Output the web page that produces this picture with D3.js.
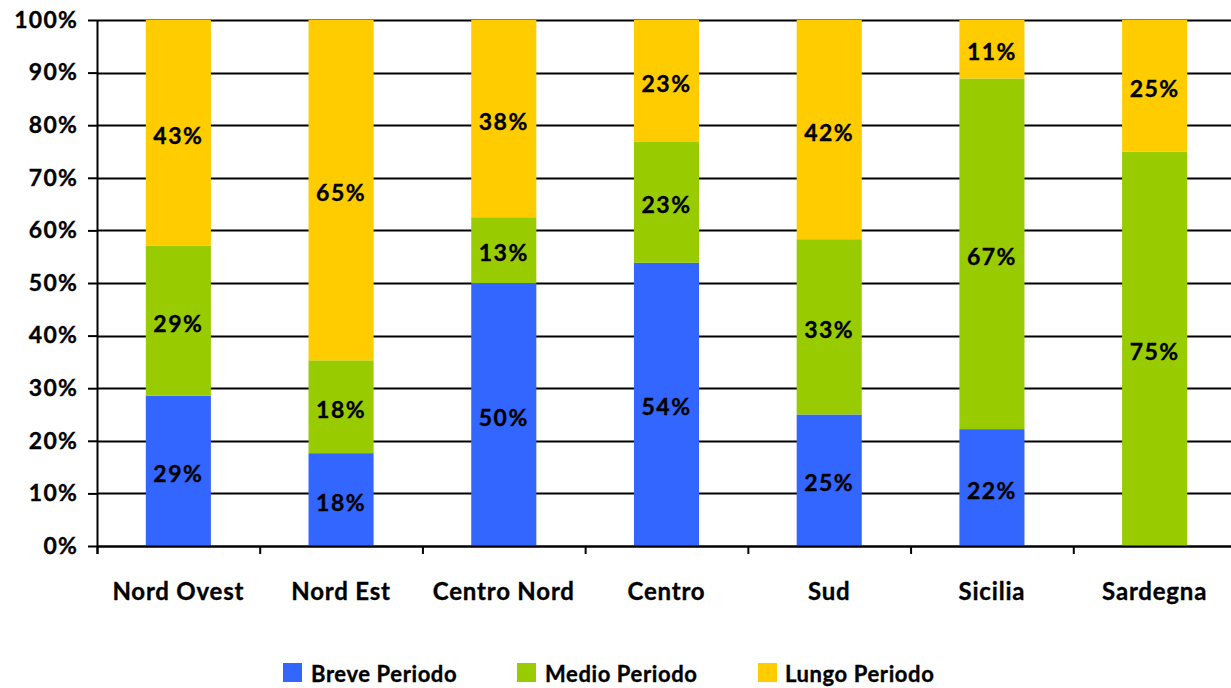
<!DOCTYPE html>
<html>
<head>
<meta charset="utf-8">
<script src="https://cdn.jsdelivr.net/npm/d3@7"></script>
<style>
  html, body { margin: 0; padding: 0; background: #fff; }
  svg { display: block; }
  text { font-family: Lato, "Open Sans", sans-serif; font-weight: bold; fill: #000; stroke: #000; stroke-width: 0.35px; }
</style>
</head>
<body>
<svg id="chart" width="1231" height="688"></svg>
<script>
// Regions on the x axis
const categories = ["Nord Ovest", "Nord Est", "Centro Nord", "Centro", "Sud", "Sicilia", "Sardegna"];

// Share of each period per region (fractions of 1)
const brevePeriodo = [0.2857, 0.1765, 0.500, 0.5385, 0.250, 0.2222, 0.000];
const medioPeriodo = [0.2857, 0.1765, 0.125, 0.2308, 0.3333, 0.6667, 0.750];
const lungoPeriodo = [0.4286, 0.6470, 0.375, 0.2307, 0.4167, 0.1111, 0.250];

const seriesNames = ["Breve Periodo", "Medio Periodo", "Lungo Periodo"];
const seriesColors = ["#3366FF", "#99CC00", "#FFCC00"];

// Y axis tick values
const yTicks = [0, 0.1, 0.2, 0.3, 0.4, 0.5, 0.6, 0.7, 0.8, 0.9, 1.0];

const svg = d3.select("#chart");
const W = 1231;
const plot = { left: 97, right: 1236, top: 20, bottom: 546 };

const x = d3.scaleBand()
  .domain(categories)
  .range([plot.left, plot.right])
  .paddingInner(0.6)
  .paddingOuter(0.3);

const step = x.step();

const y = d3.scaleLinear()
  .domain([0, 1])
  .range([plot.bottom, plot.top]);

const table = categories.map((c, i) => ({
  cat: c,
  "Breve Periodo": brevePeriodo[i],
  "Medio Periodo": medioPeriodo[i],
  "Lungo Periodo": lungoPeriodo[i]
}));

const stacked = d3.stack().keys(seriesNames)(table);

// Horizontal grid lines
svg.append("g")
  .selectAll("line")
  .data(yTicks)
  .join("line")
  .attr("x1", plot.left)
  .attr("x2", W)
  .attr("y1", d => Math.round(y(d)) + 0.5)
  .attr("y2", d => Math.round(y(d)) + 0.5)
  .attr("stroke", "#000")
  .attr("stroke-width", 2);

// Stacked bars
const layers = svg.append("g")
  .selectAll("g")
  .data(stacked)
  .join("g")
  .attr("fill", (d, i) => seriesColors[i]);

layers.selectAll("rect")
  .data(d => d)
  .join("rect")
  .attr("x", d => x(d.data.cat))
  .attr("width", x.bandwidth())
  .attr("y", d => y(d[1]))
  .attr("height", d => y(d[0]) - y(d[1]));

// Value labels inside segments
const fmt = d3.format(".0%");
const labels = svg.append("g");
stacked.forEach(layer => {
  labels.append("g")
    .selectAll("text")
    .data(layer.filter(d => d[1] - d[0] > 0.001))
    .join("text")
    .attr("x", d => x(d.data.cat) + x.bandwidth() / 2)
    .attr("y", d => (y(d[0]) + y(d[1])) / 2)
    .attr("dy", "0.48em")
    .attr("text-anchor", "middle")
    .attr("font-size", 23)
    .attr("letter-spacing", 1.5)
    .text(d => fmt(d[1] - d[0]));
});

// Y axis
const yAxis = d3.axisLeft(y)
  .tickValues(yTicks)
  .tickFormat(d3.format(".0%"))
  .tickSize(9)
  .tickPadding(10);

const gy = svg.append("g")
  .attr("transform", `translate(${plot.left},0)`)
  .call(yAxis);
gy.select(".domain").attr("stroke", "#000").attr("stroke-width", 2).attr("d", `M0.5,${y(1)}V${y(0) + 8}`);
gy.selectAll(".tick line").attr("stroke", "#000").attr("stroke-width", 2);
gy.selectAll(".tick text")
  .attr("font-size", 23)
  .attr("letter-spacing", 1.2)
  .attr("font-family", "Lato, sans-serif")
  .attr("font-weight", "bold");

// X axis line with tick marks at band boundaries
const gx = svg.append("g");
gx.append("line")
  .attr("x1", plot.left)
  .attr("x2", W)
  .attr("y1", Math.round(y(0)) + 0.5)
  .attr("y2", Math.round(y(0)) + 0.5)
  .attr("stroke", "#000")
  .attr("stroke-width", 2);
gx.selectAll("line.tk")
  .data(d3.range(categories.length + 1))
  .join("line")
  .attr("class", "tk")
  .attr("x1", i => plot.left + i * step + 0.5)
  .attr("x2", i => plot.left + i * step + 0.5)
  .attr("y1", y(0))
  .attr("y2", y(0) + 8)
  .attr("stroke", "#000")
  .attr("stroke-width", 2);
gx.selectAll("text")
  .data(categories)
  .join("text")
  .attr("x", d => x(d) + x.bandwidth() / 2)
  .attr("y", 600)
  .attr("text-anchor", "middle")
  .attr("font-size", 24)
  .attr("letter-spacing", 0.8)
  .text(d => d);

// Legend
const legendX = [283, 517, 758];
const legend = svg.append("g")
  .selectAll("g")
  .data(seriesNames)
  .join("g")
  .attr("transform", (d, i) => `translate(${legendX[i]},663)`);
legend.append("rect")
  .attr("width", 19)
  .attr("height", 19)
  .attr("fill", (d, i) => seriesColors[i]);
legend.append("text")
  .attr("x", (d, i) => [28, 28, 27][i])
  .attr("y", 19)
  .attr("font-size", 22)
  .attr("letter-spacing", 0.6)
  .text(d => d);
</script>
</body>
</html>
